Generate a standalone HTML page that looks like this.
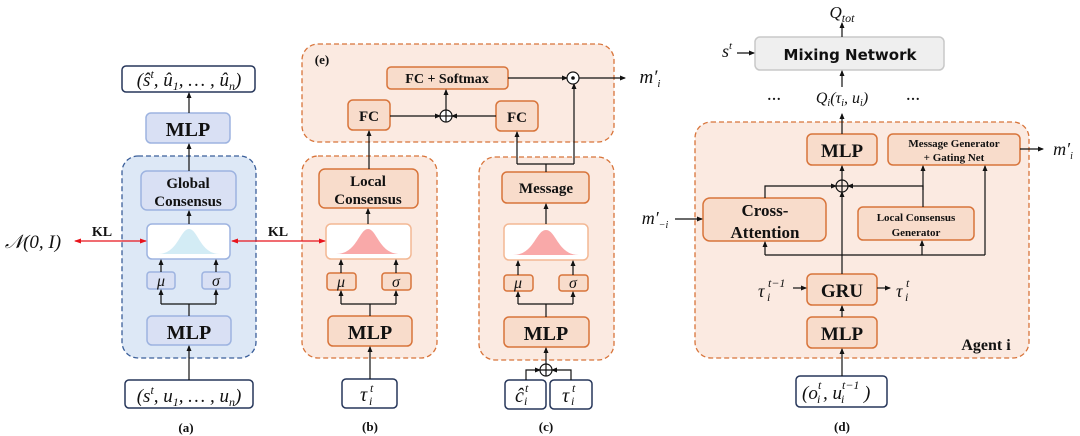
<!DOCTYPE html>
<html><head><meta charset="utf-8"><style>
body{margin:0;background:#fff}
svg{display:block}
.b{font-family:"Liberation Serif",serif;font-weight:bold;fill:#111}
.m{font-family:"Liberation Serif",serif;font-style:italic;fill:#111}
.s{font-family:"DejaVu Sans","Liberation Sans",sans-serif;font-weight:bold;fill:#111}
</style></head><body>
<svg width="1080" height="436" viewBox="0 0 1080 436" xmlns="http://www.w3.org/2000/svg">
<defs>
<marker id="a" markerWidth="6" markerHeight="6" refX="5" refY="3" orient="auto" markerUnits="userSpaceOnUse"><path d="M0,0.5 L6,3 L0,5.5z" fill="#111"/></marker>
<marker id="r" markerWidth="7" markerHeight="6" refX="6" refY="3" orient="auto-start-reverse" markerUnits="userSpaceOnUse"><path d="M0,0.5 L7,3 L0,5.5z" fill="#e8141c"/></marker>
</defs>
<g stroke="#111" stroke-width="1.3" fill="none">
<rect x="122" y="156" width="134" height="202" rx="16" fill="#dde8f6" stroke="#3b5f9a" stroke-dasharray="5,3"/>
<rect x="302" y="156" width="135" height="202" rx="16" fill="#fbeae1" stroke="#d8743a" stroke-dasharray="5,3"/>
<rect x="302" y="44" width="312" height="98" rx="16" fill="#fbeae1" stroke="#d8743a" stroke-dasharray="5,3"/>
<rect x="479" y="157" width="135" height="203" rx="16" fill="#fbeae1" stroke="#d8743a" stroke-dasharray="5,3"/>
<rect x="695" y="122" width="334" height="236" rx="16" fill="#fbeae1" stroke="#d8743a" stroke-dasharray="5,3"/>
</g>
<g stroke-width="1.5">
<rect x="122" y="66" width="133" height="26" rx="4" fill="#fff" stroke="#26365a"/>
<rect x="146" y="113" width="84" height="30" rx="5" fill="#d9e0f4" stroke="#9db3e0"/>
<rect x="141" y="171" width="95" height="39" rx="6" fill="#d9e0f4" stroke="#9db3e0"/>
<rect x="147" y="224" width="83" height="35" rx="5" fill="#fff" stroke="#9db3e0"/>
<rect x="147" y="272" width="28" height="17" rx="3" fill="#d9e0f4" stroke="#9db3e0"/>
<rect x="202" y="272" width="28" height="17" rx="3" fill="#d9e0f4" stroke="#9db3e0"/>
<rect x="147" y="316" width="84" height="29" rx="5" fill="#d9e0f4" stroke="#9db3e0"/>
<rect x="125" y="380" width="128" height="28" rx="4" fill="#fff" stroke="#26365a"/>
</g>
<path d="M158,254 C178,254 180,229 189,229 C198,229 200,254 220,254z" fill="#d3ecf5"/>
<g stroke-width="1.5" stroke="#d8743a">
<rect x="319" y="169" width="99" height="39" rx="6" fill="#f8dccb"/>
<rect x="326" y="224" width="85" height="35" rx="5" fill="#fff" stroke="#f3b894"/>
<rect x="327" y="273" width="29" height="17" rx="3" fill="#f8dccb"/>
<rect x="382" y="273" width="29" height="17" rx="3" fill="#f8dccb"/>
<rect x="328" y="316" width="84" height="30" rx="5" fill="#f8dccb"/>
<rect x="342" y="379" width="55" height="29" rx="4" fill="#fff" stroke="#26365a"/>
<rect x="348" y="100" width="42" height="30" rx="5" fill="#f8dccb"/>
<rect x="387" y="67" width="121" height="22" rx="4" fill="#f8dccb"/>
<rect x="496" y="101" width="42" height="30" rx="5" fill="#f8dccb"/>
<rect x="502" y="172" width="87" height="31" rx="5" fill="#f8dccb"/>
<rect x="504" y="224" width="84" height="36" rx="5" fill="#fff" stroke="#f3b894"/>
<rect x="504" y="275" width="29" height="16" rx="3" fill="#f8dccb"/>
<rect x="559" y="275" width="29" height="16" rx="3" fill="#f8dccb"/>
<rect x="504" y="317" width="85" height="30" rx="5" fill="#f8dccb"/>
<rect x="505" y="380" width="41" height="29" rx="4" fill="#fff" stroke="#26365a"/>
<rect x="550" y="380" width="42" height="29" rx="4" fill="#fff" stroke="#26365a"/>
<rect x="807" y="134" width="70" height="31" rx="5" fill="#f8dccb"/>
<rect x="888" y="134" width="132" height="31" rx="5" fill="#f8dccb"/>
<rect x="703" y="198" width="123" height="43" rx="7" fill="#f8dccb"/>
<rect x="858" y="207" width="116" height="33" rx="5" fill="#f8dccb"/>
<rect x="807" y="274" width="70" height="31" rx="5" fill="#f8dccb"/>
<rect x="807" y="317" width="70" height="31" rx="5" fill="#f8dccb"/>
<rect x="796" y="376" width="91" height="31" rx="4" fill="#fff" stroke="#26365a"/>
<rect x="755" y="37" width="189" height="33" rx="5" fill="#efefef" stroke="#c8c8c8"/>
</g>
<path d="M336,254 C357,254 359,229 368,229 C377,229 379,254 400,254z" fill="#f9a9a9"/>
<path d="M513,255 C534,255 536,230 546,230 C556,230 558,255 579,255z" fill="#f9a9a9"/>
<g stroke="#111" stroke-width="1.2" fill="none">
<path d="M189,380 V346" marker-end="url(#a)"/>
<path d="M189,316 V304 M161,304 H216"/><path d="M161,304 V290" marker-end="url(#a)"/><path d="M216,304 V290" marker-end="url(#a)"/>
<path d="M161,272 V260" marker-end="url(#a)"/><path d="M216,272 V260" marker-end="url(#a)"/>
<path d="M189,224 V211" marker-end="url(#a)"/>
<path d="M189,171 V144" marker-end="url(#a)"/>
<path d="M189,113 V93" marker-end="url(#a)"/>
<path d="M370,379 V347" marker-end="url(#a)"/>
<path d="M370,316 V304 M341,304 H396"/><path d="M341,304 V291" marker-end="url(#a)"/><path d="M396,304 V291" marker-end="url(#a)"/>
<path d="M341,273 V260" marker-end="url(#a)"/><path d="M396,273 V260" marker-end="url(#a)"/>
<path d="M368,224 V209" marker-end="url(#a)"/>
<path d="M369,169 V131" marker-end="url(#a)"/>
<path d="M390,116 H440" marker-end="url(#a)"/>
<path d="M496,116 H452" marker-end="url(#a)"/>
<path d="M446,110 V90" marker-end="url(#a)"/>
<path d="M508,78 H567" marker-end="url(#a)"/>
<path d="M579,78 H625" marker-end="url(#a)"/>
<path d="M546,172 V164 M517,164 H574"/><path d="M517,164 V132" marker-end="url(#a)"/><path d="M574,164 V84" marker-end="url(#a)"/>
<path d="M546,224 V204" marker-end="url(#a)"/>
<path d="M546,317 V304 M518,304 H573"/><path d="M518,304 V292" marker-end="url(#a)"/><path d="M573,304 V292" marker-end="url(#a)"/>
<path d="M518,275 V261" marker-end="url(#a)"/><path d="M573,275 V261" marker-end="url(#a)"/>
<path d="M546,364 V348" marker-end="url(#a)"/>
<path d="M526,380 V370 H540" marker-end="url(#a)"/>
<path d="M571,380 V370 H552" marker-end="url(#a)"/>
<path d="M842,376 V349" marker-end="url(#a)"/>
<path d="M842,317 V306" marker-end="url(#a)"/>
<path d="M842,274 V192" marker-end="url(#a)"/>
<path d="M842,180 V166" marker-end="url(#a)"/>
<path d="M842,134 V114" marker-end="url(#a)"/>
<path d="M842,87 V71" marker-end="url(#a)"/>
<path d="M842,37 V23" marker-end="url(#a)"/>
<path d="M737,53 H754" marker-end="url(#a)"/>
<path d="M765,255 H985"/><path d="M765,255 V242" marker-end="url(#a)"/>
<path d="M922,255 V241" marker-end="url(#a)"/><path d="M985,255 V166" marker-end="url(#a)"/>
<path d="M765,198 V186 H836" marker-end="url(#a)"/>
<path d="M923,207 V186 H848" marker-end="url(#a)"/>
<path d="M923,190 V166" marker-end="url(#a)"/>
<path d="M1020,149 H1043" marker-end="url(#a)"/>
<path d="M675,219 H702" marker-end="url(#a)"/>
<path d="M793,288 H806" marker-end="url(#a)"/>
<path d="M877,288 H890" marker-end="url(#a)"/>
<circle cx="446" cy="116" r="6" fill="#fff"/><path d="M440,116 H452 M446,110 V122"/>
<circle cx="573" cy="78" r="6" fill="#fff"/><circle cx="573" cy="78" r="1.2" fill="#111"/>
<circle cx="546" cy="370" r="6" fill="#fff"/><path d="M540,370 H552 M546,364 V376"/>
<circle cx="842" cy="186" r="6" fill="#fbeae1"/><path d="M836,186 H848 M842,180 V192"/>
</g>
<g stroke="#e8141c" stroke-width="1.3">
<line x1="75" y1="241" x2="146" y2="241" marker-start="url(#r)" marker-end="url(#r)"/>
<line x1="232" y1="241" x2="325" y2="241" marker-start="url(#r)" marker-end="url(#r)"/>
</g>
<g text-anchor="middle">
<text x="189" y="86" class="m" font-size="19">(ŝ<tspan font-size="12" dy="-8">t</tspan><tspan dy="8">, û</tspan><tspan font-size="12" dy="4">1</tspan><tspan dy="-4">, … , û</tspan><tspan font-size="12" dy="4">n</tspan><tspan dy="-4">)</tspan></text>
<text x="188" y="136" class="b" font-size="20">MLP</text>
<text x="188" y="188" class="b" font-size="15">Global</text>
<text x="188" y="206" class="b" font-size="15">Consensus</text>
<text x="161" y="286" class="m" font-size="16">μ</text><text x="216" y="286" class="m" font-size="16">σ</text>
<text x="189" y="339" class="b" font-size="20">MLP</text>
<text x="189" y="402" class="m" font-size="19">(s<tspan font-size="12" dy="-8">t</tspan><tspan dy="8">, u</tspan><tspan font-size="12" dy="4">1</tspan><tspan dy="-4">, … , u</tspan><tspan font-size="12" dy="4">n</tspan><tspan dy="-4">)</tspan></text>
<text x="186" y="432" class="b" font-size="13">(a)</text>
<text x="33" y="248" class="m" font-size="19">𝒩(0, I)</text>
<text x="102" y="236" class="b" font-size="14">KL</text>
<text x="278" y="236" class="b" font-size="14">KL</text>
<text x="368" y="186" class="b" font-size="15">Local</text>
<text x="368" y="204" class="b" font-size="15">Consensus</text>
<text x="341" y="287" class="m" font-size="16">μ</text><text x="396" y="287" class="m" font-size="16">σ</text>
<text x="370" y="339" class="b" font-size="20">MLP</text>
<text x="370" y="431" class="b" font-size="13">(b)</text>
<text x="322" y="64" class="b" font-size="13">(e)</text>
<text x="369" y="121" class="b" font-size="15">FC</text>
<text x="447" y="83" class="b" font-size="14">FC + Softmax</text>
<text x="517" y="122" class="b" font-size="15">FC</text>
<text x="650" y="83" class="m" font-size="19">m′<tspan font-size="11" dy="4">i</tspan></text>
<text x="546" y="193" class="b" font-size="15">Message</text>
<text x="518" y="288" class="m" font-size="16">μ</text><text x="573" y="288" class="m" font-size="16">σ</text>
<text x="546" y="340" class="b" font-size="20">MLP</text>
<text x="546" y="431" class="b" font-size="13">(c)</text>
<text x="842" y="18" class="m" font-size="17">Q<tspan font-size="12" dy="4">tot</tspan></text>
<text x="850" y="60" class="s" font-size="15">Mixing Network</text>
<text x="727" y="57" class="m" font-size="18">s<tspan font-size="11" dy="-8">t</tspan></text>
<text x="842" y="103" class="m" font-size="16">Q<tspan font-size="10" dy="3">i</tspan><tspan dy="-3">(τ</tspan><tspan font-size="10" dy="3">i</tspan><tspan dy="-3">, u</tspan><tspan font-size="10" dy="3">i</tspan><tspan dy="-3">)</tspan></text>
<text x="774" y="100" class="b" font-size="14">…</text><text x="913" y="100" class="b" font-size="14">…</text>
<text x="842" y="157" class="b" font-size="19">MLP</text>
<text x="954" y="147" class="b" font-size="11">Message Generator</text>
<text x="954" y="161" class="b" font-size="11">+ Gating Net</text>
<text x="1063" y="155" class="m" font-size="18">m′<tspan font-size="10" dy="4">i</tspan></text>
<text x="765" y="216" class="b" font-size="17">Cross-</text>
<text x="765" y="238" class="b" font-size="17">Attention</text>
<text x="916" y="221" class="b" font-size="11">Local Consensus</text>
<text x="916" y="236" class="b" font-size="11">Generator</text>
<text x="655" y="224" class="m" font-size="18">m′<tspan font-size="10" dy="4">−i</tspan></text>
<text x="842" y="297" class="b" font-size="19">GRU</text>
<text x="842" y="340" class="b" font-size="19">MLP</text>
<text x="986" y="350" class="b" font-size="16">Agent i</text>
<text x="842" y="431" class="b" font-size="13">(d)</text>
</g>
<g>
<text x="360" y="401" font-size="20" class="m">τ</text><text x="370" y="392" font-size="12" class="m">t</text><text x="369" y="405" font-size="12" class="m">i</text>
<text x="515" y="402" font-size="20" class="m">ĉ</text><text x="525" y="392" font-size="12" class="m">t</text><text x="524" y="405" font-size="12" class="m">i</text>
<text x="562" y="402" font-size="20" class="m">τ</text><text x="572" y="392" font-size="12" class="m">t</text><text x="571" y="405" font-size="12" class="m">i</text>
<text x="758" y="297" font-size="18" class="m">τ</text><text x="768" y="287" font-size="12" class="m">t−1</text><text x="767" y="301" font-size="12" class="m">i</text>
<text x="896" y="297" font-size="18" class="m">τ</text><text x="906" y="287" font-size="12" class="m">t</text><text x="905" y="301" font-size="12" class="m">i</text>
<text x="802" y="399" font-size="19" class="m">(o</text><text x="818" y="389" font-size="12" class="m">t</text><text x="817" y="403" font-size="12" class="m">i</text>
<text x="823" y="399" font-size="19" class="m">, u</text><text x="842" y="389" font-size="12" class="m">t−1</text><text x="841" y="403" font-size="12" class="m">i</text>
<text x="864" y="399" font-size="19" class="m">)</text>
</g>
</svg>
</body></html>
